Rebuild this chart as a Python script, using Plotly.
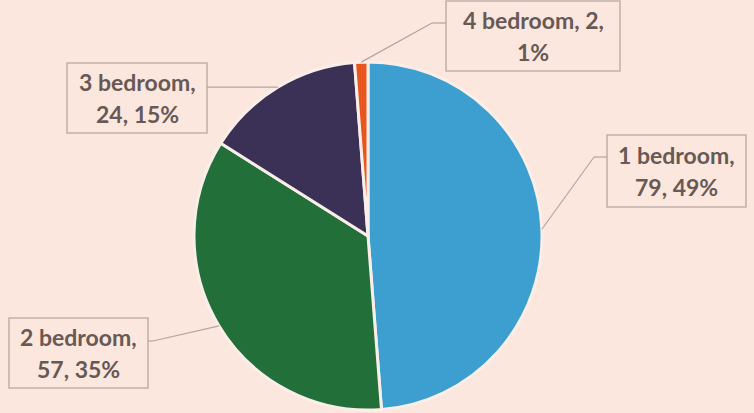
import math
import plotly.graph_objects as go

# ---- data ----
categories = ["1 bedroom", "2 bedroom", "3 bedroom", "4 bedroom"]
counts = [79, 57, 24, 2]
percent_labels = ["49%", "35%", "15%", "1%"]

# ---- styling / layout ----
W, H = 754, 413
BG = "#FCE7DE"
colors = ["#3D9FD0", "#226F3A", "#3B3156", "#E8561F"]
TEXT = "#685955"
BOX = "#C2B3AB"
LEAD = "#B3A59F"

CX, CY, R = 368, 236, 174  # pie centre / radius in pixels (top-left origin)

def px(x):
    return x / W

def py(y):
    return 1 - y / H

fig = go.Figure(go.Pie(
    labels=categories, values=counts, sort=False, direction="clockwise",
    rotation=0, textinfo="none", showlegend=False, hoverinfo="label+value+percent",
    marker=dict(colors=colors, line=dict(color="#FAEEE9", width=3)),
    domain=dict(x=[px(CX - R), px(CX + R)], y=[py(CY + R), py(CY - R)]),
))

# label boxes (left, top, right, bottom) and elbow points in pixels
boxes = [(607, 135, 746, 207), (9, 318, 148, 388), (67, 63, 207, 133), (446, 1, 620, 71)]
elbows = [(594, 157, 607), (153, 341, 148), (None, None, 207), (432, 23, 446)]
label_lines = [
    (f"{c},", f"{v}, {p}") if i != 3 else (f"{c}, {v},", p)
    for i, (c, v, p) in enumerate(zip(categories, counts, percent_labels))
]

total = sum(counts)
cum = 0
shapes = []
annotations = []
for i, v in enumerate(counts):
    mid = (cum + v / 2) / total * 2 * math.pi
    cum += v
    ex = CX + R * math.sin(mid)
    ey = CY - R * math.cos(mid)
    l, t, r, b = boxes[i]
    shapes.append(dict(type="rect", xref="paper", yref="paper",
                       x0=px(l), x1=px(r), y0=py(b), y1=py(t),
                       line=dict(color=BOX, width=1.6), fillcolor="rgba(0,0,0,0)"))
    elx, ely, bx = elbows[i]
    if elx is None:
        pts = [(ex, ey), (bx, ey)]
    else:
        pts = [(ex, ey), (elx, ely), (bx, ely)]
    for (x0, y0), (x1, y1) in zip(pts[:-1], pts[1:]):
        shapes.append(dict(type="line", xref="paper", yref="paper",
                           x0=px(x0), y0=py(y0), x1=px(x1), y1=py(y1),
                           line=dict(color=LEAD, width=1.2)))
    cy = (t + b) / 2
    for k, line in enumerate(label_lines[i]):
        annotations.append(dict(
            x=px((l + r) / 2), y=py(cy - 16 + 32 * k), xref="paper", yref="paper",
            text=line, showarrow=False, xanchor="center", yanchor="middle",
            font=dict(family="Lato", size=23, color=TEXT, weight="bold"),
        ))

fig.update_layout(
    width=W, height=H, margin=dict(l=0, r=0, t=0, b=0),
    paper_bgcolor=BG, plot_bgcolor=BG,
    shapes=shapes, annotations=annotations,
)

fig.write_html("out.html", config={"displayModeBar": False},
               post_script="document.body.style.margin='0';")
